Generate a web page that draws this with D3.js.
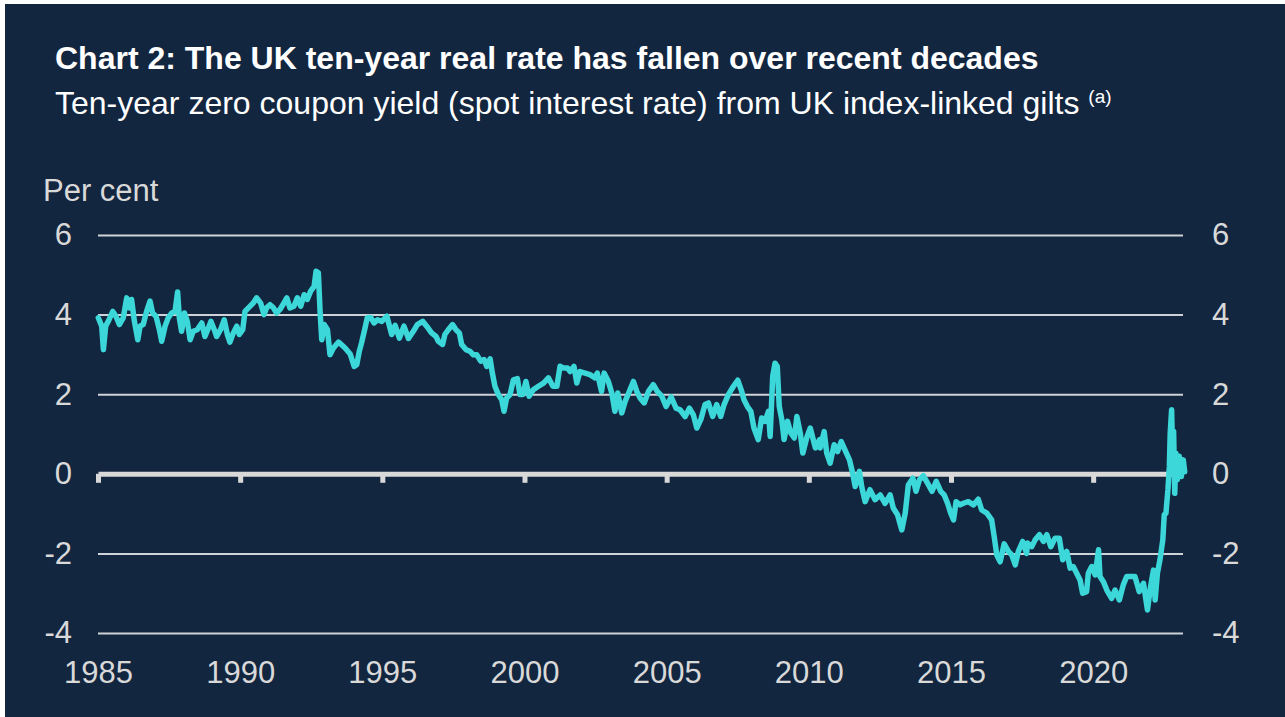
<!DOCTYPE html>
<html>
<head>
<meta charset="utf-8">
<script src="https://cdn.jsdelivr.net/npm/d3@7"></script>
<style>
  body { margin: 0; background: #ffffff; }
  svg { display: block; font-family: "Liberation Sans", Arial, sans-serif; }
</style>
</head>
<body>
<svg id="chart" width="1285" height="717"></svg>
<script>
// chart texts
var title = "Chart 2: The UK ten-year real rate has fallen over recent decades";
var subtitle = "Ten-year zero coupon yield (spot interest rate) from UK index-linked gilts";
var unitLabel = "Per cent";

// axis ticks
var yearTicks = [1985, 1990, 1995, 2000, 2005, 2010, 2015, 2020];
var rateTicks = [-4, -2, 0, 2, 4, 6];

// ten-year real yield, [year, per cent] in pieces
var yields1985 = [[1985.01,3.92],[1985.13,3.71],[1985.19,3.12],[1985.27,3.71],[1985.36,3.83],[1985.52,4.08],[1985.63,3.96],[1985.75,3.75],[1985.89,3.92],[1986.01,4.42],[1986.10,4.17],[1986.18,4.38],[1986.28,3.83],[1986.40,3.37],[1986.48,3.71],[1986.59,3.75],[1986.71,4.08],[1986.83,4.34],[1986.92,4.04],[1987.04,3.96],[1987.16,3.62],[1987.24,3.33],[1987.36,3.71],[1987.47,3.92],[1987.59,4.04],[1987.71,4.08],[1987.80,4.57],[1987.86,3.92],[1987.94,3.58],[1988.04,4.04],[1988.14,3.83],[1988.24,3.37],[1988.35,3.58],[1988.49,3.62],[1988.65,3.79],[1988.76,3.45],[1988.88,3.66],[1988.97,3.83],[1989.09,3.62],[1989.17,3.45],[1989.31,3.62],[1989.44,3.87],[1989.55,3.50],[1989.64,3.31],[1989.76,3.54],[1989.88,3.71],[1989.97,3.50],[1990.09,3.62],[1990.17,4.08],[1990.29,4.17],[1990.46,4.29],[1990.58,4.42],[1990.72,4.29],[1990.84,4.00],[1990.93,4.17],[1991.05,4.25],[1991.17,4.17],[1991.28,4.04],[1991.40,4.13],[1991.54,4.29],[1991.64,4.42],[1991.75,4.17],[1991.89,4.21],[1992.01,4.42],[1992.13,4.21],[1992.25,4.50],[1992.36,4.38],[1992.48,4.59],[1992.60,4.71],[1992.67,5.09],[1992.75,5.05],[1992.81,4.08],[1992.87,3.37],[1992.96,3.75],[1993.07,3.62],[1993.16,2.99],[1993.28,3.16]];

var yields1993 = [[1993.46,3.31],[1993.69,3.16],[1993.87,3.01],[1994.01,2.70],[1994.10,2.74],[1994.19,3.08],[1994.27,3.29],[1994.39,3.66],[1994.47,3.92],[1994.59,3.93],[1994.71,3.79],[1994.83,3.87],[1994.98,3.83],[1995.16,3.96],[1995.33,3.50],[1995.45,3.73],[1995.60,3.41],[1995.76,3.71],[1995.92,3.40],[1996.09,3.58],[1996.23,3.75],[1996.42,3.83],[1996.56,3.71],[1996.73,3.54],[1996.89,3.45],[1996.97,3.33],[1997.12,3.25],[1997.20,3.50],[1997.32,3.62],[1997.47,3.75],[1997.59,3.62],[1997.71,3.54],[1997.79,3.25],[1997.94,3.12],[1998.08,3.08],[1998.20,2.99],[1998.32,2.99],[1998.46,2.83],[1998.58,2.87],[1998.67,2.70],[1998.79,2.89],[1998.87,2.53],[1998.96,2.20],[1999.08,1.99],[1999.20,1.86],[1999.28,1.57],[1999.37,1.90],[1999.49,1.99],[1999.61,2.36],[1999.75,2.39],[1999.84,1.99],[1999.94,1.99],[2000.05,2.32],[2000.16,1.95],[2000.31,2.11],[2000.49,2.20],[2000.67,2.28],[2000.84,2.41],[2001.00,2.20],[2001.14,2.20],[2001.25,2.70],[2001.37,2.66],[2001.51,2.66]];

var yields2001 = [[2001.60,2.57],[2001.74,2.70],[2001.84,2.28],[2001.95,2.57],[2002.13,2.53],[2002.30,2.49],[2002.48,2.41],[2002.56,2.53],[2002.71,2.07],[2002.80,2.53],[2002.95,2.32],[2003.07,2.03],[2003.18,1.57],[2003.28,2.03],[2003.42,1.53],[2003.54,1.82],[2003.71,2.11],[2003.83,2.32],[2003.95,2.07],[2004.07,1.90],[2004.21,1.78],[2004.36,2.07],[2004.53,2.24],[2004.67,2.07],[2004.83,1.95],[2004.98,1.69],[2005.16,1.93],[2005.33,1.65],[2005.47,1.61],[2005.65,1.44],[2005.80,1.65],[2005.94,1.48],[2006.06,1.15],[2006.20,1.36],[2006.35,1.74],[2006.47,1.78],[2006.62,1.44],[2006.76,1.74],[2006.90,1.44],[2007.02,1.74],[2007.17,1.99],[2007.35,2.20],[2007.50,2.35],[2007.64,2.07],[2007.72,1.86],[2007.84,1.69],[2007.96,1.57],[2008.07,1.15],[2008.22,0.86],[2008.34,1.40],[2008.46,1.32],[2008.58,1.57],[2008.64,0.94],[2008.73,2.45],[2008.81,2.78],[2008.89,2.70],[2008.96,1.69],[2009.05,1.36],[2009.13,0.86],[2009.25,1.32],[2009.37,1.02],[2009.49,0.90],[2009.58,1.44],[2009.70,1.02],[2009.79,0.52],[2009.94,0.94],[2010.05,1.15],[2010.23,0.65],[2010.38,0.86]];

var yields2010 = [[2010.40,0.65],[2010.54,1.06],[2010.63,0.52],[2010.75,0.27],[2010.89,0.73],[2011.01,0.56],[2011.14,0.81],[2011.27,0.60],[2011.43,0.35],[2011.54,0.02],[2011.63,-0.32],[2011.78,0.06],[2011.86,-0.32],[2011.98,-0.70],[2012.15,-0.40],[2012.33,-0.65],[2012.51,-0.53],[2012.68,-0.74],[2012.86,-0.53],[2012.97,-0.86],[2013.12,-1.03],[2013.27,-1.41],[2013.39,-0.99],[2013.50,-0.28],[2013.66,-0.11],[2013.77,-0.44],[2013.89,-0.15],[2014.03,-0.05],[2014.21,-0.28],[2014.33,-0.44],[2014.48,-0.19],[2014.64,-0.44],[2014.76,-0.53],[2014.88,-0.74],[2014.99,-0.99],[2015.09,-1.16],[2015.18,-0.70],[2015.32,-0.78],[2015.44,-0.74],[2015.61,-0.70],[2015.79,-0.78],[2015.96,-0.64],[2016.08,-0.91],[2016.26,-0.99],[2016.43,-1.16],[2016.52,-1.58],[2016.61,-2.04],[2016.73,-2.21],[2016.87,-1.76],[2017.02,-1.95],[2017.14,-2.04],[2017.26,-2.29],[2017.37,-1.95],[2017.52,-1.70],[2017.66,-2.00]];

var yields2017 = [[2017.69,-1.74],[2017.84,-1.83],[2017.96,-1.66],[2018.11,-1.53],[2018.25,-1.70],[2018.37,-1.53],[2018.51,-1.83],[2018.66,-1.62],[2018.81,-1.62],[2018.93,-2.16],[2019.07,-1.95],[2019.19,-2.37],[2019.30,-2.33],[2019.42,-2.50],[2019.54,-2.67],[2019.63,-3.00],[2019.77,-2.96],[2019.83,-2.50],[2019.95,-2.33],[2020.07,-2.54],[2020.19,-1.91],[2020.24,-2.58],[2020.36,-2.71],[2020.48,-2.92],[2020.65,-3.13],[2020.77,-2.92],[2020.92,-3.17],[2021.06,-2.79],[2021.18,-2.58],[2021.32,-2.58],[2021.47,-2.58],[2021.62,-2.96],[2021.77,-2.75],[2021.91,-3.42],[2022.02,-2.83],[2022.12,-2.42],[2022.18,-3.17],[2022.26,-2.50],[2022.35,-2.16],[2022.45,-1.66],[2022.50,-1.03],[2022.56,-0.99],[2022.63,-0.40],[2022.68,0.18],[2022.71,1.02],[2022.76,1.61],[2022.80,0.35],[2022.83,1.06],[2022.87,-0.49],[2022.91,0.52],[2022.96,-0.15],[2023.03,0.44],[2023.10,-0.07],[2023.17,0.35],[2023.22,0.05]];

var yields = yields1985.concat(yields1993, yields2001, yields2010, yields2017);

var svg = d3.select("#chart");

// dark panel (thin white margin top and left like the original)
svg.append("rect")
  .attr("x", 5)
  .attr("y", 4)
  .attr("width", 1280)
  .attr("height", 713)
  .attr("fill", "#13263f");

// scales
var x = d3.scaleLinear()
  .domain([1985, 2023.16])
  .range([98, 1183]);

var y = d3.scaleLinear()
  .domain([-4, 6])
  .range([633, 235]);

// plain hyphen for negatives, like the original
var fmt = function(d) { return String(d); };

// titles
svg.append("text")
  .attr("x", 55)
  .attr("y", 69)
  .attr("fill", "#ffffff")
  .style("font-size", "32px")
  .style("font-weight", "bold")
  .text(title);

var sub = svg.append("text")
  .attr("x", 55)
  .attr("y", 114)
  .attr("fill", "#ffffff")
  .style("font-size", "32px")
  .text(subtitle + " ");
sub.append("tspan")
  .attr("dy", -11)
  .style("font-size", "19px")
  .text("(a)");

svg.append("text")
  .attr("x", 43)
  .attr("y", 201)
  .attr("fill", "#d9d9d9")
  .style("font-size", "31px")
  .text(unitLabel);

// gridlines + left labels
var left = svg.append("g")
  .attr("class", "y axis")
  .attr("transform", "translate(98,0)")
  .call(d3.axisLeft(y)
    .tickValues(rateTicks)
    .tickSizeInner(-(1183 - 98))
    .tickSizeOuter(0)
    .tickPadding(26)
    .tickFormat(fmt));

left.select(".domain").remove();
left.selectAll(".tick line")
  .attr("stroke", "#cfd2d6")
  .attr("stroke-width", 2)
  .filter(function(d) { return d === 0; }).remove();
left.selectAll(".tick text")
  .attr("fill", "#d9d9d9")
  .style("font-size", "31px")
  .style("font-family", "'Liberation Sans', Arial, sans-serif");

// right labels
var right = svg.append("g")
  .attr("class", "y axis")
  .attr("transform", "translate(1183,0)")
  .call(d3.axisRight(y)
    .tickValues(rateTicks)
    .tickSize(0)
    .tickPadding(29)
    .tickFormat(fmt));

right.select(".domain").remove();
right.selectAll(".tick text")
  .attr("fill", "#d9d9d9")
  .style("font-size", "31px")
  .style("font-family", "'Liberation Sans', Arial, sans-serif");

// zero line with year ticks
var zero = svg.append("g")
  .attr("class", "x axis")
  .attr("transform", "translate(0," + y(0) + ")")
  .call(d3.axisBottom(x)
    .tickValues(yearTicks)
    .tickSizeInner(9)
    .tickSizeOuter(0)
    .tickFormat(""));

zero.select(".domain")
  .attr("stroke", "#d9d9d9")
  .attr("stroke-width", 5);
zero.selectAll(".tick line")
  .attr("stroke", "#d9d9d9")
  .attr("stroke-width", 5);

// year labels under the chart
var years = svg.append("g")
  .attr("class", "x labels")
  .attr("transform", "translate(0," + y(-4) + ")")
  .call(d3.axisBottom(x)
    .tickValues(yearTicks)
    .tickSize(0)
    .tickFormat(fmt));

years.select(".domain").remove();
years.selectAll(".tick text")
  .attr("y", 50)
  .attr("dy", 0)
  .attr("fill", "#d9d9d9")
  .style("font-size", "31px")
  .style("font-family", "'Liberation Sans', Arial, sans-serif");

// the yield line
var line = d3.line()
  .x(function(d) { return x(d[0]); })
  .y(function(d) { return y(d[1]); });

svg.append("path")
  .datum(yields)
  .attr("fill", "none")
  .attr("stroke", "#3cd7d9")
  .attr("stroke-width", 5.5)
  .attr("stroke-linejoin", "round")
  .attr("stroke-linecap", "round")
  .attr("d", line);
</script>
</body>
</html>
